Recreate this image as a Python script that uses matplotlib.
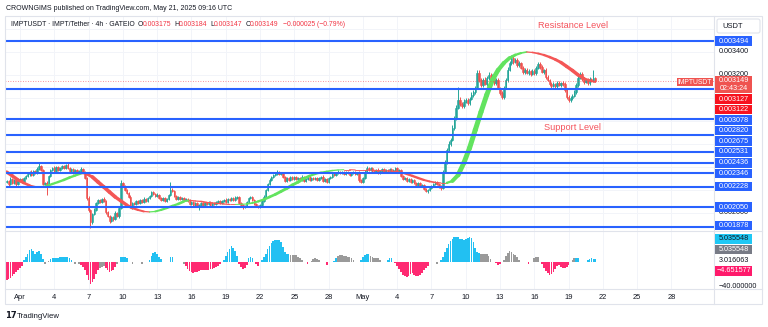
import matplotlib
matplotlib.use("Agg")
import matplotlib.pyplot as plt
import matplotlib.dates as mdates
from matplotlib.collections import LineCollection
from matplotlib.patches import Rectangle, FancyBboxPatch
import numpy as np
import pandas as pd

plt.rcParams['font.family'] = ['Liberation Sans', 'DejaVu Sans']

W, H = 768, 327

# IMPT/USDT 4h candles, prices in millionths of USDT
first_open = 2270
closes = [
    2278, 2252, 2296, 2261, 2287, 2252, 2278, 2296, 2270, 2304,
    2322, 2339, 2356, 2330, 2365, 2348, 2383, 2409, 2374, 2252,
    2261, 2235, 2322, 2374, 2391, 2365, 2400, 2374, 2391, 2409,
    2391, 2417, 2391, 2365, 2383, 2356, 2374, 2348, 2365, 2383,
    2356, 2304, 2130, 2026, 1922, 1991, 2026, 2087, 2113, 2096,
    2122, 2104, 2009, 1974, 1930, 1965, 1948, 2000, 1974, 2043,
    2261, 2235, 2200, 2174, 2139, 2052, 2087, 2078, 2104, 2087,
    2113, 2096, 2122, 2104, 2130, 2148, 2183, 2165, 2148, 2157,
    2130, 2113, 2130, 2104, 2122, 2157, 2200, 2191, 2148, 2122,
    2139, 2122, 2130, 2113, 2122, 2104, 2078, 2096, 2069, 2087,
    2061, 2069, 2087, 2069, 2087, 2078, 2096, 2069, 2087, 2078,
    2096, 2104, 2087, 2104, 2113, 2096, 2122, 2113, 2130, 2113,
    2130, 2139, 2087, 2069, 2052, 2061, 2096, 2130, 2139, 2113,
    2078, 2061, 2052, 2069, 2104, 2139, 2200, 2252, 2287, 2313,
    2330, 2339, 2356, 2339, 2348, 2313, 2278, 2304, 2287, 2313,
    2296, 2313, 2296, 2304, 2287, 2313, 2278, 2296, 2313, 2287,
    2304, 2296, 2304, 2287, 2304, 2313, 2278, 2296, 2270, 2304,
    2313, 2339, 2330, 2348, 2356, 2348, 2356, 2339, 2356, 2348,
    2330, 2348, 2356, 2339, 2348, 2287, 2270, 2304, 2356, 2391,
    2374, 2391, 2365, 2356, 2374, 2348, 2365, 2383, 2356, 2374,
    2365, 2383, 2356, 2374, 2391, 2365, 2374, 2322, 2296, 2304,
    2278, 2296, 2270, 2287, 2261, 2243, 2261, 2235, 2243, 2209,
    2191, 2200, 2217, 2235, 2252, 2270, 2252, 2226, 2217, 2356,
    2443, 2548, 2600, 2635, 2739, 2826, 2913, 2983, 2948, 2930,
    2965, 2983, 2957, 2991, 3026, 3052, 3087, 3217, 3157, 3113,
    3157, 3122, 3174, 3200, 3157, 3191, 3130, 3157, 3087, 3043,
    3009, 3087, 3157, 3244, 3304, 3348, 3313, 3330, 3287, 3304,
    3261, 3226, 3244, 3217, 3235, 3209, 3235, 3217, 3261, 3296,
    3270, 3226, 3244, 3183, 3157, 3122, 3104, 3122, 3104, 3130,
    3113, 3130, 3122, 3070, 3009, 2983, 3000, 3017, 3052, 3113,
    3174, 3209, 3165, 3139, 3157, 3130, 3165, 3148, 3174, 3149,
]
last_open = 3175
wick_up = [
    12, 8, 15, 6, 10, 9, 14, 7, 11, 13,
    9, 12, 8, 16, 10, 7, 13, 34, 9, 12,
    10, 15, 8, 12, 9, 14, 11, 8, 13, 10,
    12, 9, 15, 8, 11, 10, 7, 12, 9, 14,
    8, 10, 12, 15, 9, 11, 13, 8, 10, 12,
    9, 14, 10, 8, 12, 9, 11, 13, 10, 8,
    26, 12, 9, 11, 8, 13, 10, 9, 12, 8,
    11, 9, 13, 8, 10, 12, 9, 11, 8, 13,
    10, 9, 12, 8, 11, 10, 70, 13, 9, 11,
    8, 12, 10, 9, 11, 8, 13, 10, 9, 12,
    8, 11, 10, 9, 12, 8, 10, 11, 9, 8,
    12, 10, 9, 11, 8, 13, 10, 9, 12, 11,
    14, 10, 9, 12, 8, 11, 10, 13, 9, 10,
    8, 11, 9, 12, 10, 13, 9, 11, 15, 10,
    12, 16, 18, 10, 9, 12, 8, 11, 10, 9,
    12, 8, 10, 11, 9, 13, 10, 8, 12, 9,
    10, 11, 9, 12, 8, 10, 13, 9, 11, 10,
    9, 12, 10, 8, 14, 11, 9, 12, 10, 8,
    11, 9, 12, 10, 8, 13, 10, 9, 14, 16,
    10, 12, 9, 11, 8, 13, 10, 9, 12, 10,
    11, 9, 12, 10, 13, 9, 11, 8, 10, 12,
    9, 11, 10, 8, 12, 9, 11, 10, 8, 12,
    10, 9, 11, 8, 12, 10, 9, 11, 13, 18,
    20, 15, 22, 18, 25, 20, 30, 113, 26, 18,
    22, 16, 20, 18, 24, 15, 20, 22, 26, 14,
    18, 22, 15, 24, 20, 16, 22, 18, 14, 12,
    15, 18, 20, 22, 18, 26, 15, 18, 14, 16,
    12, 15, 18, 14, 16, 12, 15, 18, 20, 16,
    14, 18, 12, 15, 16, 12, 18, 14, 12, 16,
    14, 12, 18, 15, 12, 16, 14, 18, 20, 16,
    22, 18, 14, 16, 12, 15, 14, 12, 70, 9,
]
wick_down = [
    10, 14, 9, 12, 8, 15, 11, 9, 13, 10,
    8, 11, 14, 9, 12, 10, 8, 13, 11, 9,
    12, 78, 10, 9, 13, 8, 11, 12, 9, 10,
    11, 9, 12, 10, 8, 13, 9, 11, 10, 12,
    9, 12, 14, 18, 52, 15, 12, 10, 13, 9,
    11, 10, 14, 12, 15, 13, 18, 10, 12, 14,
    10, 9, 12, 11, 13, 10, 14, 9, 11, 12,
    9, 11, 10, 13, 8, 12, 10, 9, 11, 10,
    12, 9, 11, 10, 13, 9, 10, 12, 11, 9,
    10, 12, 9, 11, 10, 13, 9, 12, 10, 11,
    12, 35, 10, 9, 11, 12, 10, 9, 13, 10,
    9, 11, 10, 12, 9, 10, 13, 11, 9, 12,
    10, 9, 12, 11, 15, 10, 9, 11, 12, 10,
    13, 10, 12, 9, 11, 10, 12, 9, 11, 10,
    9, 11, 10, 12, 9, 13, 10, 11, 9, 12,
    10, 9, 12, 11, 10, 9, 13, 10, 11, 9,
    12, 10, 9, 11, 10, 12, 9, 11, 13, 10,
    11, 9, 10, 12, 9, 11, 10, 9, 12, 10,
    9, 11, 10, 12, 9, 14, 12, 10, 11, 9,
    10, 12, 9, 11, 10, 9, 12, 10, 11, 9,
    12, 10, 9, 11, 10, 12, 9, 11, 10, 12,
    9, 11, 10, 12, 9, 11, 10, 12, 13, 11,
    12, 14, 10, 9, 11, 10, 12, 9, 15, 10,
    12, 14, 10, 15, 12, 18, 14, 12, 16, 20,
    14, 12, 16, 18, 12, 15, 14, 12, 18, 16,
    14, 12, 16, 15, 18, 12, 14, 16, 12, 20,
    18, 14, 12, 15, 12, 14, 16, 12, 15, 14,
    12, 15, 14, 12, 16, 14, 12, 15, 14, 12,
    15, 12, 14, 16, 12, 15, 14, 12, 16, 14,
    12, 15, 14, 16, 18, 20, 14, 16, 12, 15,
    14, 12, 16, 18, 12, 14, 16, 12, 10, 2,
]

# smoothed trend, one point every third candle
trend = [
    2356, 2322, 2287, 2261, 2239, 2226, 2226, 2235, 2252, 2269,
    2287, 2308, 2326, 2343, 2339, 2313, 2269, 2226, 2182, 2139,
    2104, 2069, 2043, 2026, 2013, 2009, 2013, 2026, 2043, 2061,
    2078, 2100, 2109, 2104, 2100, 2091, 2087, 2082, 2078, 2074,
    2074, 2075, 2078, 2087, 2100, 2117, 2139, 2161, 2187, 2213,
    2243, 2269, 2300, 2322, 2339, 2352, 2361, 2369, 2374, 2376,
    2376, 2374, 2374, 2374, 2372, 2369, 2367, 2365, 2361, 2352,
    2339, 2322, 2304, 2287, 2274, 2265, 2261, 2261, 2278, 2330,
    2435, 2565, 2722, 2878, 3026, 3156, 3243, 3304, 3348, 3374,
    3391, 3400, 3396, 3387, 3374, 3356, 3335, 3309, 3274, 3239,
    3200, 3170, 3152, 3139,
]

# momentum histogram
osc = [
    -30, -28, -26, -24, -20, -16, -14, -10, -6, 4,
    9, 14, 20, 22, 19, 14, 16, 18, 13, 5,
    -3, 0, 2, 5, 6, 6, 7, 7, 8, 8,
    9, 9, 8, 6, 3, 0, -3, 0, -3, -5,
    -8, -14, -22, -30, -37, -34, -28, -20, -14, -10,
    -8, -6, -10, -13, -16, -15, -13, -8, -3, 0,
    8, 9, 8, 6, 0, 0, -3, 0, 0, 0,
    0, -3, 0, 0, 0, 4, 10, 15, 17, 14,
    9, 5, 0, 0, 0, 0, 9, 8, 0, 0,
    0, 0, 0, -3, -6, -12, -15, -17, -18, -17,
    -16, -15, -14, -14, -13, -14, -13, -12, -11, -10,
    -9, -6, -3, 0, 4, 10, 17, 22, 26, 24,
    18, 10, -4, -8, -11, -10, -5, 7, 8, 6,
    0, -3, -6, 0, 3, 8, 14, 21, 27, 32,
    35, 37, 37, 36, 33, 25, 17, 14, 13, 12,
    12, 11, 11, 9, 6, 3, 0, 0, -4, 0,
    2, 5, 6, 5, 3, 0, 0, 0, -5, 0,
    0, 0, 2, 6, 10, 12, 11, 10, 10, 9,
    8, 6, 3, 0, 0, 0, 3, 8, 12, 14,
    13, 10, 8, 7, 6, 6, 4, 0, 0, 0,
    4, 7, 6, 0, -2, -6, -12, -17, -21, -24,
    -25, -23, -20, -19, -21, -23, -24, -22, -18, -14,
    -10, -6, 0, 0, 0, 0, -3, 0, 3, 8,
    16, 24, 30, 35, 39, 42, 42, 41, 39, 38,
    37, 38, 40, 42, 40, 33, 24, 16, 15, 14,
    14, 14, 13, 10, 5, 0, 0, -2, -5, -4,
    0, 4, 10, 15, 18, 17, 14, 11, 8, 3,
    0, 0, 0, 0, -4, 0, 0, 6, 9, 8,
    0, -4, -10, -15, -19, -21, -20, -16, -12, -6,
    -5, -8, -10, -10, -8, -5, 0, 4, 6, 7,
    6, 0, 0, 0, 0, 3, 5, 6, 5, 5.035548,
]
# candle ranges where the histogram is drawn neutral
osc_gray = [(20, 22), (36, 38), (49, 51), (58, 59), (66, 66), (71, 71), (93, 93),
            (149, 157), (160, 164), (174, 182), (191, 196), (226, 226),
            (249, 254), (261, 269), (277, 279), (297, 298)]
osc_signal = 3.016063
osc_lower = -4.651577

levels = [3494, 3078, 2820, 2675, 2531, 2436, 2346, 2228, 2050, 1878]
range_marks = [3127, 3122]
price_ticks = [3400, 3200, 2000]
countdown = "02:43:24"

DARK = '#131722'
RED = '#f23645'
UP, DOWN = '#26a69a', '#ef5350'
BLUE = '#2962ff'
FRAME = '#e0e3eb'
GRID = '#f2f4f9'


def box(x0, y0, x1, y1):
    return [x0 / W, 1 - y1 / H, (x1 - x0) / W, (y1 - y0) / H]


fig = plt.figure(figsize=(W / 100, H / 100), dpi=100)
fig.patch.set_facecolor('white')
ax = fig.add_axes(box(5, 16, 714, 231))
axo = fig.add_axes(box(5, 231, 714, 289), sharex=ax)
axp = fig.add_axes([0, 0, 1, 1], zorder=10)
axp.set_xlim(0, W)
axp.set_ylim(H, 0)
axp.axis('off')

times = pd.date_range('2025-03-30 20:00', periods=len(closes), freq='4h')
t = mdates.date2num(times.to_pydatetime())
t0 = mdates.date2num(pd.Timestamp('2025-04-01').to_pydatetime())

tick_days = [d for d in pd.date_range('2025-04-01', '2025-05-28', freq='D') if d.day % 3 == 1 and d.day < 29]
tick_pos = mdates.date2num([d.to_pydatetime() for d in tick_days])
tick_lab = [d.strftime('%b') if d.day == 1 else str(d.day) for d in tick_days]

for a in (ax, axo):
    for sp in a.spines.values():
        sp.set_visible(False)
    a.set_axisbelow(True)
    a.set_xticks(tick_pos)
ax.set_yticks(range(2000, 3701, 200))
axo.set_yticks([])
# limits after the ticks, so the ticks do not widen the view
ax.set_xlim(t0 - 1.312, t0 + 60.72)
ax.set_ylim(1843, 3713)
axo.set_ylim(-45, 51.7)

ax.grid(True, color=GRID, lw=0.7)
axo.grid(True, axis='x', color=GRID, lw=0.7)
ax.tick_params(length=0, labelbottom=False, labelleft=False)
axo.set_xticklabels(tick_lab)
axo.tick_params(axis='x', length=0, pad=3.4, labelsize=5.4, labelcolor=DARK)

# candles
c = np.array(closes, float)
o = np.r_[first_open, c[:-1]]
o[-1] = last_open
hi = np.maximum(o, c) + np.array(wick_up)
lo = np.minimum(o, c) - np.array(wick_down)
cc = np.where(c >= o, UP, DOWN)
ax.vlines(t, lo, hi, colors=cc, lw=0.7, zorder=3)
ax.bar(t, c - o, bottom=o, width=0.13, color=cc, edgecolor=cc, lw=0.4, zorder=3)

# trend ribbon: green while rising, red while falling, thicker when steep
tt = t[::3]
tr = np.array(trend, float)
pts = np.column_stack([tt, tr])
segs = np.stack([pts[:-1], pts[1:]], axis=1)
d = np.diff(tr)
px_day = ax.bbox.width / (ax.get_xlim()[1] - ax.get_xlim()[0])
px_unit = ax.bbox.height / (ax.get_ylim()[1] - ax.get_ylim()[0])
s = d * px_unit / (np.diff(tt) * px_day)
wpx = 0.9 + 4.3 * np.abs(s) / np.sqrt(1 + s ** 2)
ax.add_collection(LineCollection(segs, colors=np.where(d > 0, '#62e35f', '#f45656'),
                                 linewidths=wpx * 0.72, capstyle='round',
                                 joinstyle='round', zorder=4))

# horizontal levels and last price
for lv in levels:
    ax.axhline(lv, color=BLUE, lw=1.5, zorder=5)
ax.axhline(c[-1], color=RED, lw=0.6, ls=(0, (1, 2)), alpha=0.7, zorder=4.5)

# oscillator
ov = np.array(osc, float)
oc = np.where(ov >= 0, '#22c0f2', '#ff2a72').astype(object)
for a_, b_ in osc_gray:
    oc[a_:b_ + 1] = '#9a9a9a'
axo.bar(t, ov, width=0.15, color=list(oc), lw=0, zorder=3)


def ypx(a, v):
    return H - a.transData.transform((0, v))[1]


# frame
axp.add_patch(Rectangle((5, 15.5), 757, 288.5, fc='none', ec=FRAME, lw=0.8, zorder=1))
axp.plot([714, 714], [15.5, 304], color=FRAME, lw=0.8, zorder=1)
axp.plot([5, 762], [231, 231], color=FRAME, lw=0.8, zorder=1)
axp.plot([5, 762], [289, 289], color=FRAME, lw=0.8, zorder=1)

# price scale ticks
for p in price_ticks:
    axp.text(719, ypx(ax, p), f"{p / 1e6:.6f}", fontsize=5.2, color=DARK, va='center', zorder=3)
axp.text(719, ypx(axo, -40), f"{-40:.6f}".replace('-', '\u2212'), fontsize=5.2, color=DARK,
         va='center', zorder=3)


def tag(y, h, text, fc, tc='white'):
    axp.add_patch(Rectangle((715, y - h / 2), 37, h, fc=fc, ec='none', zorder=4))
    axp.text(733.5, y, text, fontsize=5.2, color=tc, ha='center', va='center', zorder=5)


# right-axis labels, pushed down so they never overlap
TAG_H, GAP = 9.5, 1.0
entries = [(levels[0], 'lvl')] + [(c[-1], 'last')] + [(r, 'rng') for r in range_marks] + \
          [(lv, 'lvl') for lv in levels[1:]]
cursor = 16
for p, kind in entries:
    yc = ypx(ax, p)
    if kind == 'last':
        top = max(yc - 4.5, cursor)
        axp.add_patch(Rectangle((715, top), 37, 17, fc='#ef5350', ec='none', zorder=4))
        axp.text(733.5, top + 4.5, f"{p / 1e6:.6f}", fontsize=5.2, color='white',
                 ha='center', va='center', zorder=5)
        axp.text(733.5, top + 12.5, countdown, fontsize=5.2, color='white',
                 ha='center', va='center', zorder=5)
        axp.add_patch(Rectangle((677, top + 1.5), 36, 8.5, fc='#ef5350', ec='none', zorder=4))
        axp.text(695, top + 5.8, "IMPTUSDT", fontsize=4.9, color='white',
                 ha='center', va='center', zorder=5)
        cursor = top + 17 + GAP
        continue
    top = max(yc - TAG_H / 2, cursor)
    if top + TAG_H > 230:
        top = 230 - TAG_H
    tag(top + TAG_H / 2, TAG_H, f"{p / 1e6:.6f}", BLUE if kind == 'lvl' else '#f7131f')
    cursor = top + TAG_H + GAP

# oscillator labels stacked around the signal value
step = TAG_H + GAP + 0.2
ys = ypx(axo, osc_signal)
tag(ys - 2 * step, TAG_H, f"{ov[-1]:.6f}", '#1ec8f5', DARK)
tag(ys - step, TAG_H, f"{ov[-1]:.6f}", '#787b86')
axp.text(719, ys, f"{osc_signal:.6f}", fontsize=5.2, color=DARK, va='center', zorder=3)
tag(ys + step, TAG_H, f"{osc_lower:.6f}".replace('-', '\u2212'), '#ff1a6b')

# currency box
axp.add_patch(FancyBboxPatch((717, 19), 43, 14, boxstyle='round,pad=0,rounding_size=2',
                             fc='white', ec=FRAME, lw=0.8, zorder=4))
axp.text(722, 26, "USDT", fontsize=5.4, color=DARK, va='center', zorder=5)

# header
axp.text(6, 8, "CROWNGIMS published on TradingView.com, May 21, 2025 09:16 UTC",
         fontsize=5.0, color=DARK, va='center')
rend = fig.canvas.get_renderer()
chg = c[-1] - c[-2]
parts = [("IMPTUSDT \u00b7 IMPT/Tether \u00b7 4h \u00b7 GATEIO", DARK, 0),
         ("O", DARK, 3), (f"{o[-1] / 1e6:.6f}", RED, 0),
         ("H", DARK, 2.5), (f"{hi[-1] / 1e6:.6f}", RED, 0),
         ("L", DARK, 2.5), (f"{lo[-1] / 1e6:.6f}", RED, 0),
         ("C", DARK, 2.5), (f"{c[-1] / 1e6:.6f}", RED, 0),
         (f"{chg / 1e6:.6f} ({chg / c[-2] * 100:.2f}%)".replace('-', '\u2212'), RED, 4)]
x = 11
for txt, col, gap in parts:
    x += gap
    tx = axp.text(x, 24.5, txt, fontsize=4.95, color=col, va='center')
    x += tx.get_window_extent(renderer=rend).width

axp.text(573, 26, "Resistance Level", fontsize=6.6, color='#f4525c', ha='center', va='center')
axp.text(572, 128, "Support Level", fontsize=6.6, color='#f4525c', ha='center', va='center')

# footer
axp.text(5, 316, "17", fontsize=6, fontweight='bold', color=DARK, va='center',
         family='DejaVu Sans')
axp.text(17, 316, "TradingView", fontsize=5.6, color=DARK, va='center')

fig.savefig('out.png', dpi=100)
